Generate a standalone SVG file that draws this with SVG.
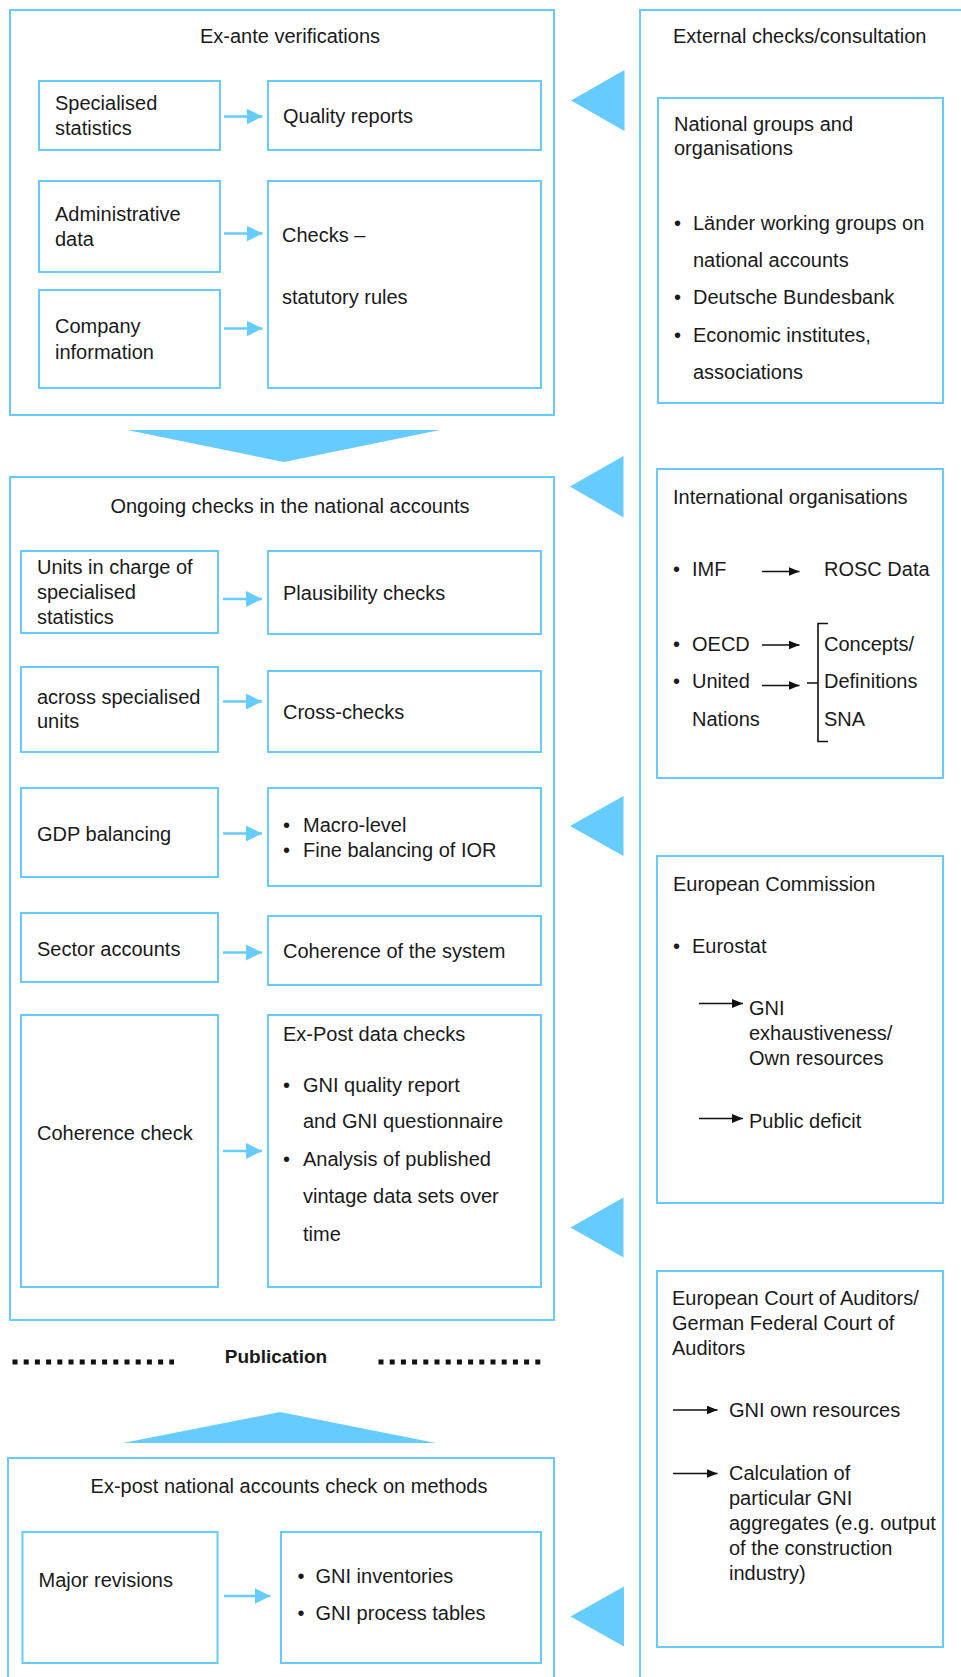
<svg xmlns="http://www.w3.org/2000/svg" width="961" height="1677" viewBox="0 0 961 1677">
  <style>
    .box { fill: none; stroke: #66ccff; stroke-width: 2; }
    .tri { fill: #66ccff; }
    text { font-family: "Liberation Sans", Arial, sans-serif; font-size: 20px; fill: #1a1a1a; }
    .mid { text-anchor: middle; }
    .bold { font-weight: bold; font-size: 19px; }
    .flow { stroke: #66ccff; stroke-width: 2.3; fill: none; marker-end: url(#blueHead); }
    .ref { stroke: #111; stroke-width: 1.4; fill: none; marker-end: url(#blackHead); }
    .brace { stroke: #111; stroke-width: 1.6; fill: none; }
    .dots { stroke: #111; stroke-width: 5; stroke-dasharray: 5 6.2; }
  </style>
  <defs>
    <marker id="blueHead" markerUnits="userSpaceOnUse" markerWidth="16" markerHeight="16" refX="16" refY="8" orient="auto">
      <path d="M0,0 L16,8 L0,16 Z" fill="#66ccff"/>
    </marker>
    <marker id="blackHead" markerUnits="userSpaceOnUse" markerWidth="11" markerHeight="9" refX="11" refY="4.5" orient="auto">
      <path d="M0,0 L11,4.5 L0,9 Z" fill="#111"/>
    </marker>
  </defs>

  <!-- Ex-ante stage -->
  <g id="ex-ante">
    <rect class="box" x="10" y="10" width="544" height="405"/>
    <text class="mid" x="290" y="43">Ex-ante verifications</text>
  </g>
  <g id="specialised-statistics">
    <rect class="box" x="39" y="81" width="181" height="69"/>
    <text x="55" y="110">Specialised</text>
    <text x="55" y="135">statistics</text>
  </g>
  <g id="quality-reports">
    <rect class="box" x="268" y="81" width="273" height="69"/>
    <text x="283" y="123">Quality reports</text>
  </g>
  <g id="administrative-data">
    <rect class="box" x="39" y="181" width="181" height="91"/>
    <text x="55" y="221">Administrative</text>
    <text x="55" y="246">data</text>
  </g>
  <g id="statutory-checks">
    <rect class="box" x="268" y="181" width="273" height="207"/>
    <text x="282" y="242">Checks –</text>
    <text x="282" y="304">statutory rules</text>
  </g>
  <g id="company-information">
    <rect class="box" x="39" y="290" width="181" height="98"/>
    <text x="55" y="333">Company</text>
    <text x="55" y="359">information</text>
  </g>

  <!-- transition to ongoing checks -->
  <polygon id="to-ongoing" class="tri" points="127,430 440,430 284,462"/>

  <!-- Ongoing checks stage -->
  <g id="ongoing">
    <rect class="box" x="10" y="477" width="544" height="843"/>
    <text class="mid" x="290" y="513">Ongoing checks in the national accounts</text>
  </g>
  <g id="units-in-charge">
    <rect class="box" x="21" y="551" width="197" height="82"/>
    <text x="37" y="574">Units in charge of</text>
    <text x="37" y="599">specialised</text>
    <text x="37" y="624">statistics</text>
  </g>
  <g id="plausibility-checks">
    <rect class="box" x="268" y="551" width="273" height="83"/>
    <text x="283" y="600">Plausibility checks</text>
  </g>
  <g id="across-units">
    <rect class="box" x="21" y="667" width="197" height="85"/>
    <text x="37" y="704">across specialised</text>
    <text x="37" y="728">units</text>
  </g>
  <g id="cross-checks">
    <rect class="box" x="268" y="671" width="273" height="81"/>
    <text x="283" y="719">Cross-checks</text>
  </g>
  <g id="gdp-balancing">
    <rect class="box" x="21" y="788" width="197" height="89"/>
    <text x="37" y="841">GDP balancing</text>
  </g>
  <g id="macro-level">
    <rect class="box" x="268" y="788" width="273" height="98"/>
    <text x="283" y="832">•</text>
    <text x="303" y="832">Macro-level</text>
    <text x="283" y="857">•</text>
    <text x="303" y="857">Fine balancing of IOR</text>
  </g>
  <g id="sector-accounts">
    <rect class="box" x="21" y="913" width="197" height="69"/>
    <text x="37" y="956">Sector accounts</text>
  </g>
  <g id="system-coherence">
    <rect class="box" x="268" y="916" width="273" height="69"/>
    <text x="283" y="958">Coherence of the system</text>
  </g>
  <g id="coherence-check">
    <rect class="box" x="21" y="1015" width="197" height="272"/>
    <text x="37" y="1140">Coherence check</text>
  </g>
  <g id="ex-post-data-checks">
    <rect class="box" x="268" y="1015" width="273" height="272"/>
    <text x="283" y="1041">Ex-Post data checks</text>
    <text x="283" y="1092">•</text>
    <text x="303" y="1092">GNI quality report</text>
    <text x="303" y="1128">and GNI questionnaire</text>
    <text x="283" y="1166">•</text>
    <text x="303" y="1166">Analysis of published</text>
    <text x="303" y="1203">vintage data sets over</text>
    <text x="303" y="1241">time</text>
  </g>

  <!-- publication divider -->
  <g id="publication">
    <line class="dots" x1="12.5" y1="1362" x2="174" y2="1362"/>
    <text class="mid bold" x="276" y="1363">Publication</text>
    <line class="dots" x1="378.5" y1="1362" x2="541" y2="1362"/>
  </g>

  <polygon id="from-ex-post" class="tri" points="123,1443 436,1443 280,1412"/>

  <!-- Ex-post stage -->
  <g id="ex-post">
    <rect class="box" x="8" y="1458" width="546" height="240"/>
    <text class="mid" x="289" y="1493">Ex-post national accounts check on methods</text>
  </g>
  <g id="major-revisions">
    <rect class="box" x="22.5" y="1532" width="195" height="131"/>
    <text x="38.5" y="1587">Major revisions</text>
  </g>
  <g id="gni-inventories">
    <rect class="box" x="281" y="1532" width="260" height="131"/>
    <text x="297.5" y="1583">•</text>
    <text x="315.5" y="1583">GNI inventories</text>
    <text x="297.5" y="1620">•</text>
    <text x="315.5" y="1620">GNI process tables</text>
  </g>

  <!-- External checks column -->
  <g id="external">
    <rect class="box" x="640" y="10" width="340" height="1700"/>
    <text x="673" y="43">External checks/consultation</text>
  </g>
  <g id="national-groups">
    <rect class="box" x="658" y="98" width="285" height="305"/>
    <text x="674" y="131">National groups and</text>
    <text x="674" y="155">organisations</text>
    <text x="674" y="230">•</text>
    <text x="693" y="230">Länder working groups on</text>
    <text x="693" y="267">national accounts</text>
    <text x="674" y="304">•</text>
    <text x="693" y="304">Deutsche Bundesbank</text>
    <text x="674" y="342">•</text>
    <text x="693" y="342">Economic institutes,</text>
    <text x="693" y="379">associations</text>
  </g>
  <g id="international-organisations">
    <rect class="box" x="657" y="469" width="286" height="309"/>
    <text x="673" y="504">International organisations</text>
    <text x="673" y="576">•</text>
    <text x="692" y="576">IMF</text>
    <text x="824" y="576">ROSC Data</text>
    <text x="673" y="651">•</text>
    <text x="692" y="651">OECD</text>
    <text x="673" y="688">•</text>
    <text x="692" y="688">United</text>
    <text x="692" y="726">Nations</text>
    <text x="824" y="651">Concepts/</text>
    <text x="824" y="688">Definitions</text>
    <text x="824" y="726">SNA</text>
    <path class="brace" d="M828,623.5 H818 V741.5 H828 M807,683 H818"/>
  </g>
  <g id="european-commission">
    <rect class="box" x="657" y="856" width="286" height="347"/>
    <text x="673" y="891">European Commission</text>
    <text x="673" y="953">•</text>
    <text x="692" y="953">Eurostat</text>
    <text x="749" y="1015">GNI</text>
    <text x="749" y="1040">exhaustiveness/</text>
    <text x="749" y="1065">Own resources</text>
    <text x="749" y="1128">Public deficit</text>
  </g>
  <g id="courts-of-auditors">
    <rect class="box" x="657" y="1271" width="286" height="376"/>
    <text x="672" y="1305">European Court of Auditors/</text>
    <text x="672" y="1330">German Federal Court of</text>
    <text x="672" y="1355">Auditors</text>
    <text x="729" y="1417">GNI own resources</text>
    <text x="729" y="1480">Calculation of</text>
    <text x="729" y="1505">particular GNI</text>
    <text x="729" y="1530">aggregates (e.g. output</text>
    <text x="729" y="1555">of the construction</text>
    <text x="729" y="1580">industry)</text>
  </g>

  <!-- Connectors -->
  <g id="connectors">
    <line class="flow" x1="224" y1="116.5" x2="262.5" y2="116.5"/>
    <line class="flow" x1="224" y1="233.5" x2="262.5" y2="233.5"/>
    <line class="flow" x1="224" y1="328.5" x2="262.5" y2="328.5"/>
    <line class="flow" x1="223" y1="599" x2="262" y2="599"/>
    <line class="flow" x1="223" y1="701.5" x2="262" y2="701.5"/>
    <line class="flow" x1="223" y1="833.5" x2="262" y2="833.5"/>
    <line class="flow" x1="223" y1="952.5" x2="262" y2="952.5"/>
    <line class="flow" x1="223" y1="1151" x2="262" y2="1151"/>
    <line class="flow" x1="224" y1="1596" x2="270.5" y2="1596"/>

    <line class="ref" x1="762" y1="571.5" x2="799.5" y2="571.5"/>
    <line class="ref" x1="762" y1="645" x2="799.5" y2="645"/>
    <line class="ref" x1="762" y1="685.5" x2="799.5" y2="685.5"/>
    <line class="ref" x1="699" y1="1003.5" x2="743" y2="1003.5"/>
    <line class="ref" x1="699" y1="1118.5" x2="743" y2="1118.5"/>
    <line class="ref" x1="673" y1="1410" x2="717.5" y2="1410"/>
    <line class="ref" x1="673" y1="1473.5" x2="717.5" y2="1473.5"/>

    <polygon class="tri" points="571,100.5 624.5,70 624.5,131"/>
    <polygon class="tri" points="570,486.5 623.5,456 623.5,517.5"/>
    <polygon class="tri" points="570,826 623.5,796 623.5,856"/>
    <polygon class="tri" points="570.5,1227.5 623.5,1197.5 623.5,1257.5"/>
    <polygon class="tri" points="570.5,1616.5 624,1586.5 624,1646.5"/>
  </g>
</svg>
